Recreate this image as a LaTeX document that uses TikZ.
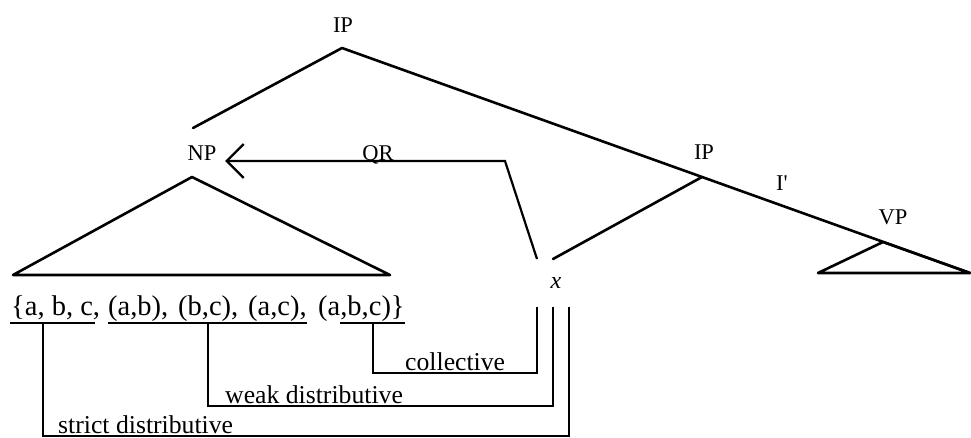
\documentclass[tikz,border=0pt]{standalone}
\usepackage{fontspec}
\setmainfont{Liberation Serif}
\usetikzlibrary{arrows.meta}
\begin{document}
\begin{tikzpicture}[x=1pt,y=-1pt,
  treeline/.style={line width=2.6pt,line cap=round,line join=round},
  bracket/.style={line width=1.8pt},
  uline/.style={line width=2.4pt},
  lab/.style={inner sep=0pt,font=\fontsize{22.5}{24}\selectfont},
  setlab/.style={inner sep=0pt,anchor=base west,font=\fontsize{28.5}{30}\selectfont},
  blab/.style={inner sep=0pt,anchor=base west,font=\fontsize{25.7}{27}\selectfont}]
\useasboundingbox (0,0) rectangle (971,438);
% labels
\node[lab] (iptop) at (343,25) {IP};
\node[lab] (np) at (202,153) {NP};
\node[lab] (iplow) at (704,152) {IP};
\node[lab] (ibar) at (782,183) {I\textquotesingle};
\node[lab] (vp) at (893,217) {VP};
\node[lab,anchor=base] (qr) at (378,161) {QR};
\node[lab,font=\fontsize{24}{24}\selectfont\itshape] (xv) at (556,283) {x};
% tree coordinates
\coordinate (apex) at (342,48);
\coordinate (npend) at (193,128);
\coordinate (ipj) at (702,177);
\coordinate (vpj) at (883,242);
\coordinate (vpr) at (970,273);
\coordinate (vpl) at (818,273);
\coordinate (npa) at (192,177);
\coordinate (npl) at (13,275);
\coordinate (npr) at (390,275);
\coordinate (xip) at (553,259);
\coordinate (xqr) at (537,259);
\coordinate (qrc) at (505,161);
\coordinate (qrtip) at (225,161);
% tree
\draw[treeline] (npend) -- (apex) -- (vpr);
\draw[treeline] (vpl) -- (vpj) -- (vpr) -- cycle;
\draw[treeline] (npl) -- (npa) -- (npr) -- cycle;
\draw[treeline] (ipj) -- (xip);
\draw[line width=2.2pt,line join=miter,-{Straight Barb[length=17pt,width=34pt,line width=2.4pt]}] (xqr) -- (qrc) -- (qrtip);
% set
\node[setlab] (set1) at (11,315) {\{a, b, c,};
\node[setlab] (set2) at (108,315) {(a,b),};
\node[setlab] (set3) at (178,315) {(b,c),};
\node[setlab] (set4) at (248,315) {(a,c),};
\node[setlab] (set5) at (318,315) {(a,b,c)\}};
% underlines
\coordinate (u1a) at (10,323); \coordinate (u1b) at (95,323);
\coordinate (u2a) at (108,323); \coordinate (u2b) at (307,323);
\coordinate (u3a) at (340,323); \coordinate (u3b) at (405,323);
\draw[uline] (u1a) -- (u1b);
\draw[uline] (u2a) -- (u2b);
\draw[uline] (u3a) -- (u3b);
% brackets
\coordinate (s1) at (43,323); \coordinate (s2) at (569,307);
\coordinate (w1) at (208,323); \coordinate (w2) at (553,307);
\coordinate (c1) at (373,323); \coordinate (c2) at (537,307);
\draw[bracket] (s1) -- (43,436) -- (569,436) -- (s2);
\draw[bracket] (w1) -- (208,406) -- (553,406) -- (w2);
\draw[bracket] (c1) -- (373,373) -- (537,373) -- (c2);
% bracket labels
\node[blab] (coll) at (405,370) {collective};
\node[blab] (weak) at (225,403) {weak distributive};
\node[blab] (strict) at (58,433) {strict distributive};
\end{tikzpicture}
\end{document}
